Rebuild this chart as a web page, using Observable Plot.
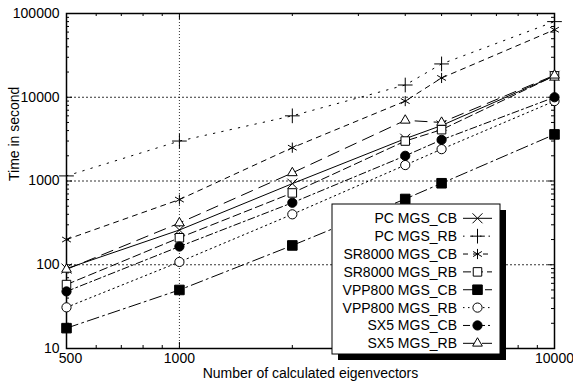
<!DOCTYPE html>
<html><head><meta charset="utf-8">
<script src="https://cdn.jsdelivr.net/npm/d3@7"></script>
<script src="https://cdn.jsdelivr.net/npm/@observablehq/plot@0.6"></script>
<style>
body{margin:0;background:#fff}
#chart{width:573px;height:388px}
</style>
</head><body><div id="chart"></div>
<script>
// ---- data ----
const eigenvectors = [500, 1000, 2000, 4000, 5000, 10000];
const seriesNames = ["PC MGS_CB","PC MGS_RB","SR8000 MGS_CB","SR8000 MGS_RB","VPP800 MGS_CB","VPP800 MGS_RB","SX5 MGS_CB","SX5 MGS_RB"];
const pcMgsCb     = [90, 260, 930, 3200, 4600, 18000];
const pcMgsRb     = [1150, 3000, 6000, 14000, 25000, 80000];
const sr8000MgsCb = [200, 600, 2500, 9000, 17000, 64000];
const sr8000MgsRb = [58, 210, 720, 3000, 4100, 18000];
const vpp800MgsCb = [17.5, 50, 170, 610, 940, 3600];
const vpp800MgsRb = [31, 108, 400, 1550, 2400, 9000];
const sx5MgsCb    = [48, 165, 550, 2000, 3100, 10000];
const sx5MgsRb    = [88, 315, 1250, 5300, 5000, 18300];
const seriesValues = [pcMgsCb, pcMgsRb, sr8000MgsCb, sr8000MgsRb, vpp800MgsCb, vpp800MgsRb, sx5MgsCb, sx5MgsRb];
const xTickLabels = [500, 1000, 10000];
const yTickLabels = [10, 100, 1000, 10000, 100000];
const xGrid = [1000];
const yGrid = [100, 1000, 10000];
const xLabel = "Number of calculated eigenvectors";
const yLabel = "Time in second";

// ---- styles ----
const W = 573, H = 388, mL = 66, mR = 19, mT = 13, mB = 40;
const innerW = W - mL - mR, innerH = H - mT - mB;
const FONT = "'Liberation Sans', Arial, Helvetica, sans-serif";
const styles = [
  {symbol: "times",    fill: "none", r: 4.6, dash: null},
  {symbol: "plus",     fill: "none", r: 4.8, dash: "1.5,7"},
  {symbol: "asterisk", fill: "none", r: 4.8, dash: "5,5"},
  {symbol: "square",   fill: "#fff", r: 4.8, dash: "8,4"},
  {symbol: "square",   fill: "#000", r: 5.4, dash: "12,4,2,4"},
  {symbol: "circle",   fill: "#fff", r: 4.6, dash: "1.5,3.5"},
  {symbol: "circle",   fill: "#000", r: 4.6, dash: "7,3,2,3"},
  {symbol: "triangle", fill: "#fff", r: 3.6, dash: "12,7"}
];
const d3Sym = {times: d3.symbolTimes, plus: d3.symbolPlus, asterisk: d3.symbolAsterisk,
  square: d3.symbolSquare, circle: d3.symbolCircle, triangle: d3.symbolTriangle};

const xMinor = [];
[100, 1000].forEach(dec => { for (let k = 2; k <= 9; k++) { const v = k * dec; if (v > 500 && v < 10000 && v !== 1000) xMinor.push(v); } });
const yMinor = [];
[10, 100, 1000, 10000].forEach(dec => { for (let k = 2; k <= 9; k++) yMinor.push(k * dec); });

const tables = seriesValues.map((vals, s) => eigenvectors.map((x, i) => ({x, y: vals[i], s})));

const marks = [
  Plot.gridY(yGrid, {stroke: "#000", strokeOpacity: 1, strokeWidth: 0.8, strokeDasharray: "2,2"}),
  Plot.gridX(xGrid, {stroke: "#000", strokeOpacity: 1, strokeWidth: 0.8, strokeDasharray: "1,2"}),
  // minor ticks (inside, mirrored)
  Plot.ruleY(yMinor, {stroke: "#000", strokeWidth: 1, insetRight: innerW - 3}),
  Plot.ruleY(yMinor, {stroke: "#000", strokeWidth: 1, insetLeft: innerW - 3}),
  Plot.ruleX(xMinor, {stroke: "#000", strokeWidth: 1, insetBottom: innerH - 3}),
  Plot.ruleX(xMinor, {stroke: "#000", strokeWidth: 1, insetTop: innerH - 3}),
  // major ticks
  Plot.ruleY(yTickLabels, {stroke: "#000", strokeWidth: 1, insetRight: innerW - 6}),
  Plot.ruleY(yTickLabels, {stroke: "#000", strokeWidth: 1, insetLeft: innerW - 6}),
  Plot.ruleX(xGrid, {stroke: "#000", strokeWidth: 1, insetBottom: innerH - 6}),
  Plot.ruleX(xGrid, {stroke: "#000", strokeWidth: 1, insetTop: innerH - 6}),
  Plot.frame({stroke: "#000", strokeWidth: 1.5}),
  Plot.axisY(yTickLabels, {anchor: "left", tickSize: 0, tickPadding: 7, tickFormat: d => String(d), label: null, fontSize: 14, fill: "#000"}),
  Plot.text(xTickLabels.slice(0, 1), {x: d => d, frameAnchor: "bottom", dy: 14, dx: 4, text: d => String(d), fontSize: 14, fill: "#000"}),
  Plot.text(xTickLabels.slice(1), {x: d => d, frameAnchor: "bottom", dy: 14, text: d => String(d), fontSize: 14, fill: "#000"}),
  Plot.text([xLabel], {frameAnchor: "bottom", dy: 29, fontSize: 14, fill: "#000"}),
  Plot.text([yLabel], {frameAnchor: "left", dx: -52, rotate: -90, fontSize: 14, fill: "#000"})
];
tables.forEach((t, s) => {
  const st = styles[s];
  marks.push(Plot.line(t, {x: "x", y: "y", stroke: "#000", strokeWidth: 1, strokeDasharray: st.dash || undefined}));
});
tables.forEach((t, s) => {
  const st = styles[s];
  marks.push(Plot.dot(t, {x: "x", y: "y", symbol: st.symbol, r: st.r, stroke: "#000", strokeWidth: 1, fill: st.fill}));
});

const plot = Plot.plot({
  width: W, height: H,
  marginLeft: mL, marginRight: mR, marginTop: mT, marginBottom: mB,
  style: {fontFamily: FONT, fontSize: "14px", color: "#000", background: "#fff"},
  x: {type: "log", domain: [500, 10000], axis: null},
  y: {type: "log", domain: [10, 100000]},
  marks
});
document.getElementById("chart").appendChild(plot);

// ---- legend ----
const svg = d3.select(plot);
const lg = svg.append("g").attr("font-family", FONT).attr("font-size", 14);
const bx = 332, by = 204, bw = 168, bh = 150, sh = 6;
lg.append("rect").attr("x", bx + sh).attr("y", by + sh).attr("width", bw).attr("height", bh).attr("fill", "#000");
lg.append("rect").attr("x", bx).attr("y", by).attr("width", bw).attr("height", bh).attr("fill", "#fff").attr("stroke", "#000").attr("stroke-width", 1);
seriesNames.forEach((name, i) => {
  const st = styles[i];
  const cy = 218.3 + i * 17.86;
  lg.append("text").attr("x", 457).attr("y", cy).attr("dy", "0.35em").attr("text-anchor", "end").attr("fill", "#000").text(name);
  lg.append("line").attr("x1", 463).attr("x2", 492).attr("y1", cy).attr("y2", cy)
    .attr("stroke", "#000").attr("stroke-width", 1).attr("stroke-dasharray", st.dash);
  lg.append("path").attr("transform", `translate(477.5,${cy})`)
    .attr("d", d3.symbol(d3Sym[st.symbol], st.r * st.r * Math.PI)())
    .attr("fill", st.fill).attr("stroke", "#000").attr("stroke-width", 1);
});
</script>
</body></html>
